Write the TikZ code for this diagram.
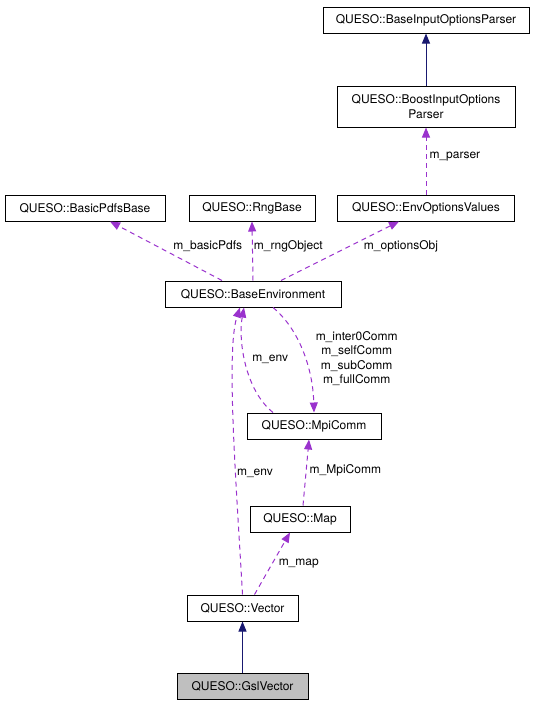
\documentclass[tikz,border=0pt]{standalone}
\usepackage{fontspec}
\setmainfont{TeX Gyre Heros}
\usepackage{tikz}
\usetikzlibrary{arrows.meta}
\definecolor{inheritblue}{HTML}{191970}
\definecolor{usagepurple}{HTML}{9A32CD}
\definecolor{selfgray}{HTML}{BFBFBF}
\tikzset{cls/.style={draw, line width=1pt, minimum height=26pt, inner sep=2pt, font=\fontsize{12}{14.5}\selectfont}}
\tikzset{inherit/.style={-{Triangle[length=10pt,width=8pt]}, color=inheritblue, line width=1pt}}
\tikzset{usage/.style={-{Triangle[length=10pt,width=8pt]}, color=usagepurple, line width=1pt, dash pattern=on 5pt off 4pt}}
\tikzset{lbl/.style={text=black, inner sep=1pt, font=\fontsize{12}{14.5}\selectfont}}

\begin{document}
\begin{tikzpicture}[x=1pt, y=-1pt]
    \useasboundingbox (0,0) rectangle (541,704);

    \node[cls, minimum width=206pt] at (426,20) (inparser){QUESO::BaseInputOptionsParser};
    \node[cls, minimum width=178pt, minimum height=41pt, align=center] at (426,106.5) (boost){QUESO::BoostInputOptions\\Parser};

    \node[cls, minimum width=160pt] at (85,208) (pdfs){QUESO::BasicPdfsBase};
    \node[cls, minimum width=126pt] at (252,208) (rng){QUESO::RngBase};
    \node[cls, minimum width=177pt] at (426,208) (envopts){QUESO::EnvOptionsValues};

    \node[cls, minimum width=176pt] at (253,294) (baseenv){QUESO::BaseEnvironment};
    \node[cls, minimum width=134pt] at (314,426) (mpi){QUESO::MpiComm};
    \node[cls, minimum width=100pt] at (300,519) (map){QUESO::Map};
    \node[cls, minimum width=111pt] at (242.5,608) (vec){QUESO::Vector};
    \node[cls, minimum width=131pt, fill=selfgray] at (242.5,686) (gslvec){QUESO::GslVector};

    \draw [inherit] (boost.north) -- (inparser.south);
    \draw [usage] (envopts.north) -- node[lbl, pos=0.56, right, xshift=2pt]{m\_parser} (boost.south);

    \draw [usage] ([xshift=-31pt]baseenv.north) -- node[lbl, pos=0.59, right, xshift=16pt]{m\_basicPdfs} ([xshift=25pt]pdfs.south);
    \draw [usage] (baseenv.north) -- node[lbl, pos=0.58, right]{m\_rngObject} (rng.north |- rng.south);
    \draw [usage] ([xshift=28pt]baseenv.north) -- node[lbl, pos=0.58, right, xshift=13pt]{m\_optionsObj} ([xshift=-27pt]envopts.south);

    \draw [usage] ([xshift=-41pt]mpi.north) .. controls (245,390) and (238,340) .. node[lbl, right, xshift=5pt, yshift=4pt]{m\_env} ([xshift=-9pt]baseenv.south);
    \draw [usage] ([xshift=20pt]baseenv.south) .. controls (300,330) and (313,370) .. node[lbl, right, align=center, xshift=11pt, yshift=-6pt]{m\_inter0Comm\\m\_selfComm\\m\_subComm\\m\_fullComm} (mpi.north);
    \draw [usage] (vec.north) .. controls (236,480) and (226,350) .. node[lbl, pos=0.35, right]{m\_env} ([xshift=-13pt]baseenv.south);

    \draw [usage] ([xshift=3pt]map.north) -- node[lbl, pos=0.53, right, xshift=2pt]{m\_MpiComm} ([xshift=-5pt]mpi.south);
    \draw [usage] ([xshift=12pt]vec.north) -- node[lbl, pos=0.5, right, xshift=5pt]{m\_map} ([xshift=-10pt]map.south);

    \draw [inherit] (gslvec.north) -- (vec.south);
\end{tikzpicture}
\end{document}
